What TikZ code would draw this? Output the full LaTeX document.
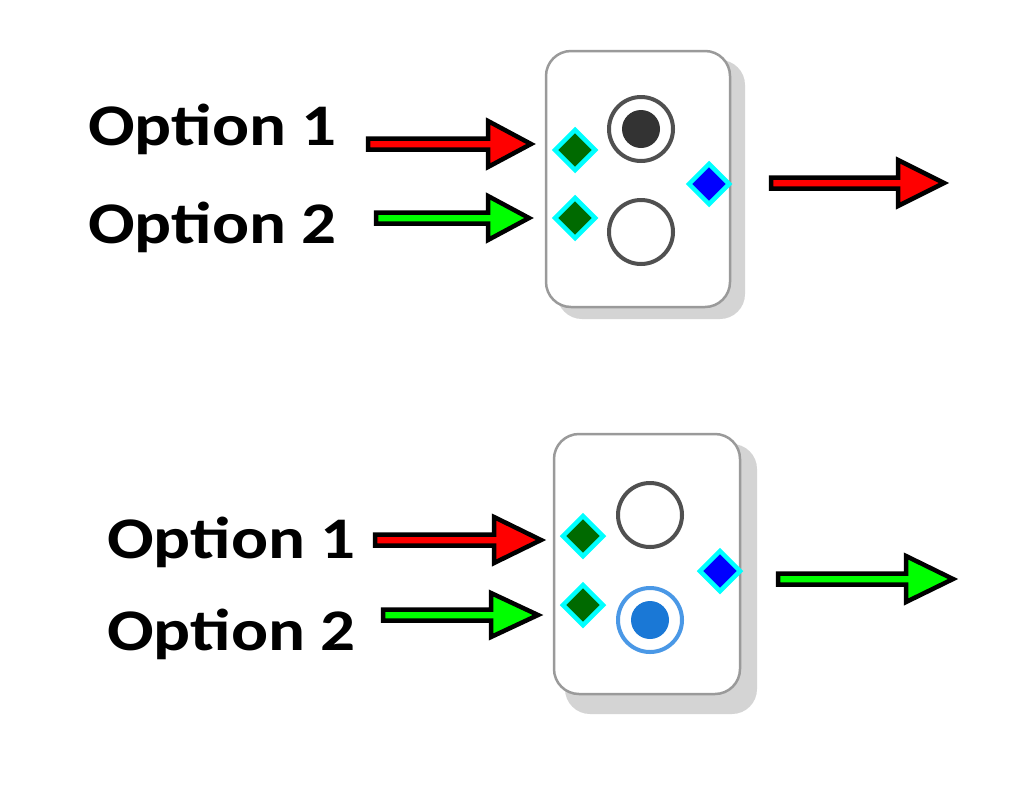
\documentclass[tikz,border=0pt]{standalone}
\usepackage{fontspec}
\setmainfont{Carlito}
\usetikzlibrary{shapes.geometric}
\definecolor{boxline}{HTML}{9A9A9A}
\definecolor{shadowc}{HTML}{D4D4D4}
\definecolor{ringgray}{HTML}{505050}
\definecolor{dotgray}{HTML}{333333}
\definecolor{ringblue}{HTML}{4A98E6}
\definecolor{dotblue}{HTML}{1A78D6}
\definecolor{arrred}{HTML}{FF0000}
\definecolor{arrgreen}{HTML}{00FF00}
\definecolor{dgreen}{HTML}{006A00}
\definecolor{portblue}{HTML}{0000FF}
\definecolor{portcyan}{HTML}{00FFFF}
\tikzset{
  panel/.style={draw=boxline, line width=2.5pt, fill=white, rounded corners=25pt},
  panelshadow/.style={fill=shadowc, rounded corners=25pt},
  inport/.style={diamond, draw=portcyan, line width=4.5pt, fill=dgreen, inner sep=0pt, minimum width=42pt, minimum height=42pt},
  outport/.style={inport, fill=portblue},
  ringoff/.style={circle, draw=ringgray, line width=4pt, fill=white, inner sep=0pt, minimum size=64pt},
  arrowline/.style={draw=black, line width=4.5pt, line join=miter},
  label/.style={font=\bfseries\fontsize{59}{59}\selectfont, anchor=base west, inner sep=0pt, xscale=1.17}
}
\newcommand\blkarrow[6]{% colour, x start, x head, x tip, y, head half height
  \draw[arrowline, fill=#1] (#2,#5-5.5) -- (#3,#5-5.5) -- (#3,#5-#6) -- (#4,#5) -- (#3,#5+#6) -- (#3,#5+5.5) -- (#2,#5+5.5) -- cycle;}
\begin{document}
\begin{tikzpicture}[x=1pt, y=-1pt]
\useasboundingbox (0,0) rectangle (1024,788);
\fill[white] (0,0) rectangle (1024,788);

% ---------- top panel ----------
\fill[panelshadow] (557,60) rectangle (745,319);
\draw[panel] (546,51) rectangle (730,307);
\node[ringoff] (t1) at (641,129) {};
\fill[dotgray] (t1.center) circle (19);
\node[ringoff] (t2) at (641,232) {};
\node[inport] (ti1) at (575,150) {};
\node[inport] (ti2) at (575,218) {};
\node[outport] (to) at (709,184) {};

\node[label] (tl1) at (88,145) {Option 1};
\node[label] (tl2) at (88,243) {Option 2};

\blkarrow{arrred}{368}{488}{531}{144}{23}
\blkarrow{arrgreen}{376}{488}{529}{218}{22}
\blkarrow{arrred}{771}{898}{944}{183}{23}

% ---------- bottom panel ----------
\fill[panelshadow] (565,444) rectangle (757,714);
\draw[panel] (554,434) rectangle (740,694);
\node[ringoff] (b1) at (650,515) {};
\node[ringoff, draw=ringblue] (b2) at (650,620) {};
\fill[dotblue] (b2.center) circle (19);
\node[inport] (bi1) at (583,536) {};
\node[inport] (bi2) at (583,605) {};
\node[outport] (bo) at (720,571) {};

\node[label] (bl1) at (107,558) {Option 1};
\node[label] (bl2) at (107,650) {Option 2};

\blkarrow{arrred}{375}{494}{541}{540}{23}
\blkarrow{arrgreen}{383}{491}{538}{615}{22}
\blkarrow{arrgreen}{778}{906}{953}{579}{23}
\end{tikzpicture}
\end{document}
